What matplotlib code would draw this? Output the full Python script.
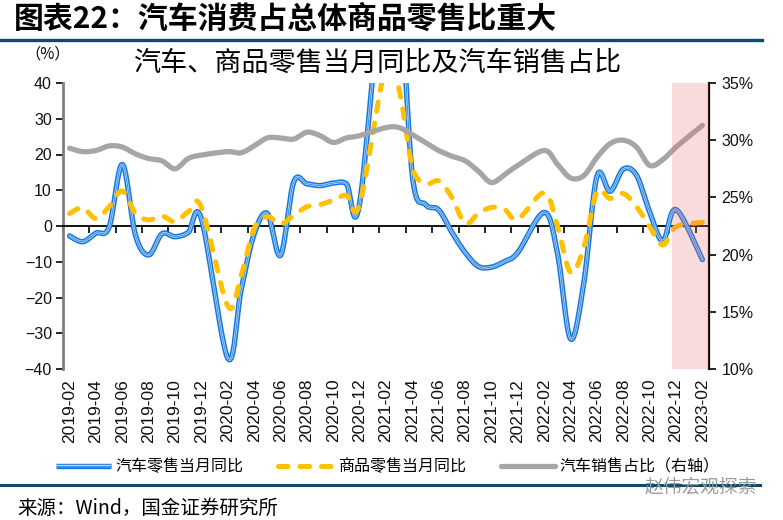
import numpy as np
import pandas as pd
import matplotlib
matplotlib.use("Agg")
import matplotlib.pyplot as plt
from matplotlib.lines import Line2D
from matplotlib.legend_handler import HandlerTuple

nan = np.nan
months = [p.strftime("%Y-%m") for p in pd.period_range("2019-02", "2023-02", freq="M")]

# 汽车零售当月同比 (%), left axis (January values are not published -> gap)
auto_yoy = [-2.8, -4.4, -2.0, -0.3, 17.2, -2.6, -8.1, -2.2, -3.0, -1.8, 2.0, nan,
            -37.0, -18.1, -2.2, 3.5, -8.2, 12.3, 11.8, 11.3, 12.0, 11.8, 6.4, nan,
            77.6, 68.2, 14.1, 6.0, 4.5, -1.8, -7.4, -11.3, -11.5, -9.9, -7.4, nan,
            3.8, -7.5, -31.6, -16.0, 13.9, 9.7, 15.9, 14.2, 3.9, -4.2, 4.6, nan,
            -9.4]
# 商品零售当月同比 (%), left axis
goods_yoy = [3.5, 5.1, 2.1, 5.4, 9.8, 3.5, 1.7, 2.8, 1.2, 4.0, 5.2, nan,
             -22.4, -14.0, -0.6, 2.6, 0.5, 3.0, 5.4, 6.0, 7.2, 8.6, 6.1, nan,
             45.0, 38.0, 16.5, 11.8, 12.6, 8.0, 0.7, 3.5, 5.2, 4.6, 1.9, nan,
             9.3, 0.0, -13.0, -6.0, 9.5, 7.7, 9.1, 5.4, -0.2, -5.3, -0.2, nan,
             1.0]
# 汽车销售占比 (%), right axis
auto_share = [29.3, 29.0, 29.1, 29.5, 29.4, 28.8, 28.4, 28.2, 27.5, 28.4, 28.7, nan,
              29.0, 28.9, 29.5, 30.2, 30.2, 30.1, 30.7, 30.4, 29.8, 30.2, 30.4, nan,
              31.1, 31.1, 30.5, 29.8, 29.1, 28.6, 28.2, 27.3, 26.3, 27.0, 27.8, nan,
              29.1, 27.9, 26.7, 26.9, 28.5, 29.7, 30.0, 29.4, 27.8, 28.3, 29.4, nan,
              31.3]
highlight_start, highlight_end = "2022-12", "2023-02"

series_names = ["汽车零售当月同比", "商品零售当月同比", "汽车销售占比（右轴）"]

CJK = ["Noto Sans CJK SC", "DejaVu Sans"]
plt.rcParams["font.family"] = ["Liberation Sans", "Noto Sans CJK SC", "DejaVu Sans"]


def smooth_curve(xv, yv, n=16):
    """Excel-like smoothed line (Catmull-Rom Bezier) through the valid points."""
    xv = np.asarray(xv, float)
    yv = np.asarray(yv, float)
    m = ~np.isnan(yv)
    P = np.column_stack([xv[m], yv[m]])
    out = [P[0]]
    t = np.linspace(0, 1, n + 1)[1:, None]
    for i in range(len(P) - 1):
        p0 = P[i - 1] if i > 0 else P[i]
        p1, p2 = P[i], P[i + 1]
        p3 = P[i + 2] if i + 2 < len(P) else P[i + 1]
        c1 = p1 + (p2 - p0) / 6.0
        c2 = p2 - (p3 - p1) / 6.0
        seg = (1 - t) ** 3 * p1 + 3 * (1 - t) ** 2 * t * c1 + 3 * (1 - t) * t ** 2 * c2 + t ** 3 * p2
        out.extend(seg)
    out = np.array(out)
    return out[:, 0], out[:, 1]


fig = plt.figure(figsize=(7.83, 5.20), dpi=100)
ax = fig.add_axes([63 / 783, 1 - 369 / 520, (709 - 63) / 783, 286 / 520])
ax2 = ax.twinx()

x = np.arange(len(months))

# blue compound line
bx, by = smooth_curve(x, auto_yoy)
blue_styles = [dict(color="#1877dc", lw=3.9), dict(color="#b3d7f7", lw=1.7), dict(color="#2f88e4", lw=0.6)]
blue_handles = []
for st in blue_styles:
    ax.plot(bx, by, solid_capstyle="round", solid_joinstyle="round", zorder=3, **st)
    blue_handles.append(Line2D([], [], solid_capstyle="butt", **st))

# orange dashed line
ox, oy = smooth_curve(x, goods_yoy)
orange_ln, = ax.plot(ox, oy, color="#ffc000", lw=3.6, dash_capstyle="round", zorder=4)
orange_ln.set_dashes((1.9, 2.4))
orange_handle = Line2D([], [], color="#ffc000", lw=3.6, dash_capstyle="round")
orange_handle.set_dashes((1.9, 2.4))

# gray share line (right axis)
gx, gy = smooth_curve(x, auto_share)
ax2.plot(gx, gy, color="#a6a6a6", lw=3.8, solid_capstyle="round", zorder=3)
gray_handle = Line2D([], [], color="#a6a6a6", lw=3.8, solid_capstyle="round")

# highlighted window
i0 = months.index(highlight_start)
i1 = months.index(highlight_end)
ax2.axvspan(i0 - 0.3, i1 + 0.5, color=(0.93, 0.42, 0.42), alpha=0.24, lw=0, zorder=10)

# axes limits / ticks
ax.set_xlim(-0.5, len(months) - 0.5)
ax.set_ylim(-40, 40)
ax.set_yticks(np.arange(-40, 41, 10))
ax2.set_ylim(10, 35)
ax2.set_yticks(np.arange(10, 36, 5))
ax2.set_yticklabels([f"{v}%" for v in range(10, 36, 5)])

ax.set_xticks(x[::2])
ax.set_xticklabels(months[::2])
ax.set_xticks(np.arange(-0.5, len(months) - 1, 2), minor=True)
ax.tick_params(axis="x", which="major", length=0, pad=110, labelsize=12.5, labelcolor="#111111",
               labelrotation=90)
ax.tick_params(axis="x", which="minor", length=5, width=1.2, direction="out", color="black")
ax.tick_params(axis="y", length=5, width=1.2, direction="out", color="black", labelsize=11.5,
               labelcolor="#111111", pad=3)
ax2.tick_params(axis="y", length=5, width=1.2, direction="out", color="black", labelsize=11.5,
                labelcolor="#111111", pad=4)
for lab in ax.get_xticklabels():
    lab.set_rotation(90)
    lab.set_va("top")
    lab.set_ha("center")

for s in ["top", "right"]:
    ax.spines[s].set_visible(False)
ax.spines["left"].set_color("#7f7f7f")
ax.spines["left"].set_linewidth(2.0)
ax.spines["bottom"].set_position(("data", 0))
ax.spines["bottom"].set_color("black")
ax.spines["bottom"].set_linewidth(1.3)
for s in ["top", "left", "bottom"]:
    ax2.spines[s].set_visible(False)
ax2.spines["right"].set_color("black")
ax2.spines["right"].set_linewidth(1.6)
ax.patch.set_visible(False)

# texts
fig.text(0.018, 1 - 19 / 520, "图表22：汽车消费占总体商品零售比重大", family=CJK, fontsize=21.5,
         fontweight="bold", fontstyle="italic", va="center", ha="left", color="black")
fig.add_artist(Line2D([0, 762 / 783], [1 - 40 / 520] * 2, color="#0c4a6e", lw=2.4))
fig.text(25 / 783, 1 - 54 / 520, "（%）", family=CJK, fontsize=11, va="center", ha="left")
fig.text(378 / 783, 1 - 63 / 520, "汽车、商品零售当月同比及汽车销售占比", family=CJK, fontsize=19.5,
         va="center", ha="center")

leg = fig.legend([tuple(blue_handles), orange_handle, gray_handle], series_names,
                 handler_map={tuple: HandlerTuple(ndivide=1)},
                 loc="center", bbox_to_anchor=(388 / 783, 1 - 467 / 520), ncol=3, frameon=False,
                 prop={"family": CJK, "size": 11.5}, handlelength=3.4, handletextpad=0.3,
                 columnspacing=2.2, borderaxespad=0)

fig.add_artist(Line2D([0, 760 / 783], [1 - 485 / 520] * 2, color="#0c4a6e", lw=2.2))
fig.text(17 / 783, 1 - 508 / 520, "来源：Wind，国金证券研究所", family=CJK, fontsize=14,
         va="center", ha="left")
fig.text(645 / 783, 1 - 487 / 520, "赵伟宏观探索", family=CJK, fontsize=13.5, va="center",
         ha="left", color="#9a9a9a")

fig.savefig("out.png", dpi=100)
